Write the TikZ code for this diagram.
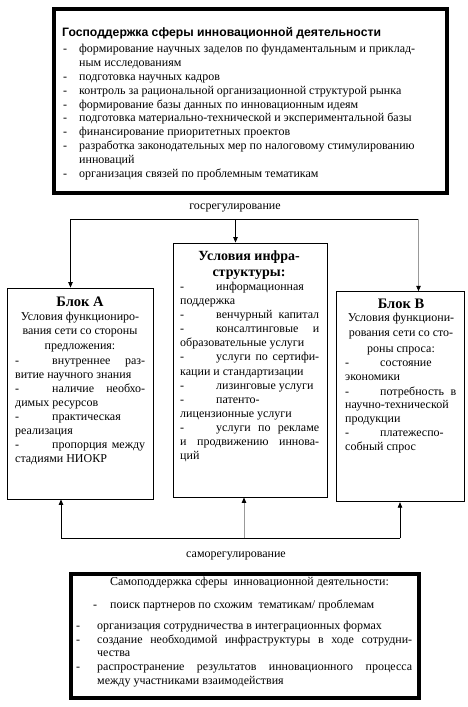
\documentclass[tikz,border=0pt]{standalone}
\usepackage{fontspec}
\setmainfont{Liberation Serif}
\newfontfamily\arialf{Liberation Sans}
\usetikzlibrary{arrows.meta}
\newcommand\bodyfont{\fontsize{12}{14}\selectfont}
\newcommand\headfont{\fontsize{14.5}{16}\selectfont\bfseries}
\newcommand\midheadfont{\fontsize{14}{16}\selectfont\bfseries}
\newcommand\dsh[1]{\makebox[#1][l]{-}}
\newcommand\jst[2]{\makebox[#1][s]{#2}}
\tikzset{
  thickbox/.style={draw, line width=4.5pt, inner sep=0pt},
  thinbox/.style={draw, line width=0.9pt, inner sep=0pt},
  ln/.style={anchor=base west, inner sep=0pt, font=\bodyfont},
  lc/.style={anchor=base, inner sep=0pt, font=\bodyfont},
  hd/.style={anchor=base, inner sep=0pt, font=\headfont},
  mhd/.style={anchor=base, inner sep=0pt, font=\midheadfont},
  conn/.style={line width=0.8pt},
  arr/.style={conn, -{Triangle[length=5.5pt,width=4.5pt,color=black]}},
  grayline/.style={draw=gray!80},
}
\begin{document}
\begin{tikzpicture}[x=1pt,y=-1pt]
\useasboundingbox (0,0) rectangle (468,707);
% boxes
\node[thickbox, minimum width=393pt, minimum height=184pt] (T) at (250.5,101) {};
\node[thinbox, minimum width=146pt, minimum height=211pt] (A) at (80,393.5) {};
\node[thinbox, minimum width=154pt, minimum height=254pt] (M) at (250,370) {};
\node[thinbox, minimum width=128pt, minimum height=210pt] (B) at (400.5,396.7) {};
\node[thickbox, minimum width=348pt, minimum height=124pt] (S) at (245,636) {};
% top box text
\node[anchor=base west, inner sep=0pt, font=\arialf\bfseries\fontsize{12.2}{14}\selectfont] (t0) at (62,36.5) {Господдержка сферы инновационной деятельности};
\node[ln] (t1) at (63,52.8) {\dsh{16pt}\jst{336pt}{формирование научных заделов по фундаментальным и приклад-}};
\node[ln] (t2) at (79,66.6) {ным исследованиям};
\node[ln] (t3) at (63,80.4) {\dsh{16pt}подготовка научных кадров};
\node[ln] (t4) at (63,94.2) {\dsh{16pt}контроль за рациональной организационной структурой рынка};
\node[ln] (t5) at (63,108) {\dsh{16pt}формирование базы данных по инновационным идеям};
\node[ln] (t6) at (63,121.8) {\dsh{16pt}подготовка материально-технической и экспериментальной базы};
\node[ln] (t7) at (63,135.6) {\dsh{16pt}финансирование приоритетных проектов};
\node[ln] (t8) at (63,149.4) {\dsh{16pt}разработка законодательных мер по налоговому стимулированию};
\node[ln] (t9) at (79,163.2) {инноваций};
\node[ln] (t10) at (63,177) {\dsh{16pt}организация связей по проблемным тематикам};
% labels
\node[lc] (gos) at (235,209.7) {госрегулирование};
\node[lc] (sam) at (236,557.7) {саморегулирование};
% block A
\node[hd] (a0) at (80,306.5) {Блок А};
\node[lc] (a1) at (80,320.8) {Условия функциониро-};
\node[lc] (a2) at (80,334.3) {вания сети со стороны};
\node[lc] (a3) at (80,349.8) {предложения:};
\node[ln] (a4) at (15,364.3) {\jst{130pt}{\dsh{37pt}внутреннее раз-}};
\node[ln] (a5) at (15,378.3) {витие научного знания};
\node[ln] (a6) at (15,392.3) {\jst{130pt}{\dsh{37pt}наличие необхо-}};
\node[ln] (a7) at (15,406.3) {димых ресурсов};
\node[ln] (a8) at (15,420.3) {\dsh{37pt}практическая};
\node[ln] (a9) at (15,434.3) {реализация};
\node[ln] (a10) at (15,448.3) {\jst{130pt}{\dsh{37pt}пропорция между}};
\node[ln] (a11) at (15,462.3) {стадиями НИОКР};
% middle block
\node[mhd] (m0) at (249,260.7) {Условия инфра-};
\node[mhd] (m1) at (249,276.3) {структуры:};
\node[ln] (m2) at (180,290.5) {\dsh{36pt}информационная};
\node[ln] (m3) at (180,304.6) {поддержка};
\node[ln] (m4) at (180,318.7) {\jst{139pt}{\dsh{36pt}венчурный капитал}};
\node[ln] (m5) at (180,332.8) {\jst{139pt}{\dsh{36pt}консалтинговые и}};
\node[ln] (m6) at (180,346.8) {образовательные услуги};
\node[ln] (m7) at (180,360.9) {\jst{139pt}{\dsh{36pt}услуги по сертифи-}};
\node[ln] (m8) at (180,375) {кации и стандартизации};
\node[ln] (m9) at (180,389.1) {\dsh{36pt}лизинговые услуги};
\node[ln] (m10) at (180,403.1) {\dsh{36pt}патенто-};
\node[ln] (m11) at (180,417.2) {лицензионные услуги};
\node[ln] (m12) at (180,431.3) {\jst{139pt}{\dsh{36pt}услуги по рекламе}};
\node[ln] (m13) at (180,445.4) {\jst{139pt}{и продвижению иннова-}};
\node[ln] (m14) at (180,459.5) {ций};
% block B
\node[hd] (b0) at (401,308.5) {Блок В};
\node[lc] (b1) at (401,321.8) {Условия функциони-};
\node[lc] (b2) at (401,336.8) {рования сети со сто-};
\node[lc] (b3) at (401,352.8) {роны спроса:};
\node[ln] (b4) at (345,366.8) {\dsh{35pt}состояние};
\node[ln] (b5) at (345,380.8) {экономики};
\node[ln] (b6) at (345,395.3) {\jst{111pt}{\dsh{35pt}потребность в}};
\node[ln] (b7) at (345,408.8) {научно-технической};
\node[ln] (b8) at (345,422.8) {продукции};
\node[ln] (b9) at (345,436.8) {\dsh{35pt}платежеспо-};
\node[ln] (b10) at (345,450.8) {собный спрос};
% bottom box
\node[ln] (s0) at (110,585.7) {Самоподдержка сферы\ \ инновационной деятельности:};
\node[ln] (s1) at (93,608.7) {\dsh{17pt}поиск партнеров по схожим\ \ тематикам/ проблемам};
\node[ln] (s2) at (76,629.7) {\dsh{21pt}организация сотрудничества в интеграционных формах};
\node[ln] (s3) at (76,643.7) {\dsh{21pt}\jst{315pt}{создание необходимой инфраструктуры в ходе сотрудни-}};
\node[ln] (s4) at (97,656.7) {чества};
\node[ln] (s5) at (76,670.7) {\dsh{21pt}\jst{315pt}{распространение результатов инновационного процесса}};
\node[ln] (s6) at (97,684.7) {между участниками взаимодействия};
% connectors top
\coordinate (gL) at (70.5,219);
\coordinate (gM) at (235.5,219);
\coordinate (gR) at (418.5,219);
\draw[conn] (gL) -- (gR);
\draw[arr] (gL) -- (gL |- A.north);
\draw[arr] (gM) -- (gM |- M.north);
\draw[arr, grayline] (gR) -- (gR |- B.north);
% connectors bottom
\coordinate (sL) at (61,538);
\coordinate (sM) at (244,538);
\coordinate (sR) at (400,538);
\draw[conn] (sL) -- (sR);
\draw[arr] (sL) -- (sL |- A.south);
\draw[arr, grayline] (sM) -- (sM |- M.south);
\draw[arr] (sR) -- (sR |- B.south);
\end{tikzpicture}
\end{document}
